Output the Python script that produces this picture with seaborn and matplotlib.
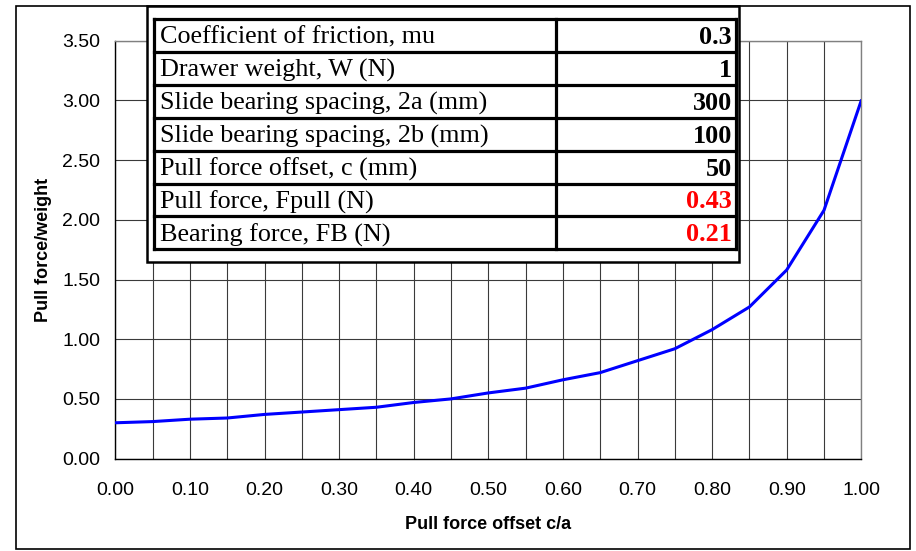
import matplotlib
matplotlib.use("Agg")
import matplotlib.pyplot as plt
from matplotlib.patches import Rectangle
from matplotlib.ticker import MultipleLocator, FormatStrFormatter
import seaborn as sns
import pandas as pd

# ---- data ----
offset_ratio = [0.00, 0.05, 0.10, 0.15, 0.20, 0.25, 0.30, 0.35, 0.40, 0.45, 0.50,
                0.55, 0.60, 0.65, 0.70, 0.75, 0.80, 0.85, 0.90, 0.95, 1.00]
pull_over_weight = [0.30, 0.31, 0.33, 0.34, 0.37, 0.39, 0.41, 0.43, 0.47, 0.50, 0.55,
                    0.59, 0.66, 0.72, 0.82, 0.92, 1.08, 1.27, 1.58, 2.08, 3.00]
table_labels = ["Coefficient of friction, mu", "Drawer weight, W (N)",
                "Slide bearing spacing, 2a (mm)", "Slide bearing spacing, 2b (mm)",
                "Pull force offset, c (mm)", "Pull force, Fpull (N)",
                "Bearing force, FB (N)"]
table_values = ["0.3", "1", "300", "100", "50", "0.43", "0.21"]
table_colors = ["black", "black", "black", "black", "black", "#ff0000", "#ff0000"]

x_label = "Pull force offset c/a"
y_label = "Pull force/weight"

sns.set_theme(style="white")
plt.rcParams['font.family'] = ['Liberation Sans', 'DejaVu Sans']

W, H = 916, 551
fig = plt.figure(figsize=(W / 100, H / 100), dpi=100)
fig.patch.set_facecolor("white")

x0, x1 = 115.3, 861.3
y_top, y_bot = 40.7, 458.6
ax = fig.add_axes([x0 / W, (H - y_bot) / H, (x1 - x0) / W, (y_bot - y_top) / H])

df = pd.DataFrame({"x": offset_ratio, "y": pull_over_weight})
sns.lineplot(data=df, x="x", y="y", ax=ax, color="#0000ff", linewidth=2.2, zorder=5)

ax.set_xlim(0, 1.0)
ax.set_ylim(0, 3.5)
ax.xaxis.set_major_locator(MultipleLocator(0.1))
ax.xaxis.set_minor_locator(MultipleLocator(0.05))
ax.yaxis.set_major_locator(MultipleLocator(0.5))
ax.xaxis.set_major_formatter(FormatStrFormatter("%.2f"))
ax.yaxis.set_major_formatter(FormatStrFormatter("%.2f"))
ax.grid(True, which="both", axis="x", color="#3a3a3a", linewidth=0.8)
ax.grid(True, which="major", axis="y", color="#3a3a3a", linewidth=0.8)
ax.tick_params(axis="both", which="both", direction="out", length=5, width=0.8,
               color="black", labelsize=14, colors="black")
ax.tick_params(axis="x", which="major", pad=12)
ax.tick_params(axis="x", which="minor", length=5)
ax.tick_params(axis="y", which="major", length=6, pad=5)
for s in ["left", "bottom"]:
    ax.spines[s].set_color("black")
    ax.spines[s].set_linewidth(1.0)
for s in ["top", "right"]:
    ax.spines[s].set_color("#808080")
    ax.spines[s].set_linewidth(1.0)
ax.set_xlabel(x_label, fontsize=13, fontweight="bold", labelpad=12, color="black")
ax.set_ylabel(y_label, fontsize=13, fontweight="bold", labelpad=7, color="black")

# ---- overlay: figure border and parameter table ----
ov = fig.add_axes([0, 0, 1, 1], zorder=10)
ov.set_xlim(0, W)
ov.set_ylim(H, 0)
ov.axis("off")
ov.patch.set_alpha(0)

ov.add_patch(Rectangle((16, 6), 894, 543, fill=False, edgecolor="black", linewidth=1.2))
ov.add_patch(Rectangle((146.7, 6), 592.3, 256, facecolor="white", edgecolor="black", linewidth=1.8))

tl, tr, tt = 153.7, 735.7, 19.0
row_h = 32.9
col_div = 555.7
n = len(table_labels)
tb = tt + n * row_h
lw_t = 2.3
for i in range(n + 1):
    yy = tt + i * row_h
    ov.plot([tl, tr], [yy, yy], color="black", linewidth=lw_t, solid_capstyle="projecting")
for xx in [tl, col_div, tr]:
    ov.plot([xx, xx], [tt, tb], color="black", linewidth=lw_t, solid_capstyle="projecting")

for i, (lab, val, col) in enumerate(zip(table_labels, table_values, table_colors)):
    yc = tt + (i + 0.5) * row_h + 2
    ov.text(159.5, yc, lab, fontsize=18.8, family="Liberation Serif", va="center", ha="left", color="black")
    ov.text(732, yc, val, fontsize=18.8, family="Liberation Serif", fontweight="bold",
            va="center", ha="right", color=col)

fig.savefig("out.png", dpi=100, facecolor="white")
